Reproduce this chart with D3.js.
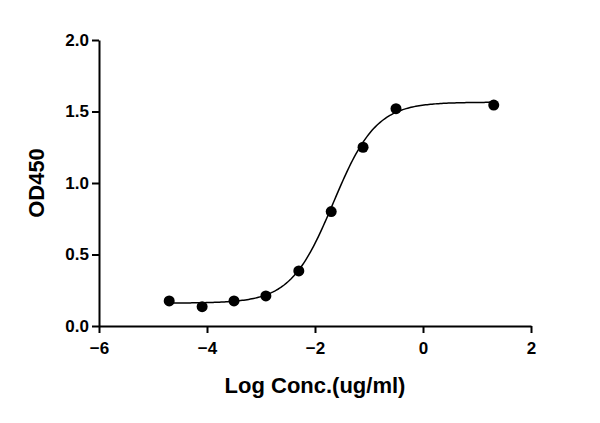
<!DOCTYPE html>
<html><head><meta charset="utf-8">
<script src="https://cdn.jsdelivr.net/npm/d3@7"></script>
<style>body{margin:0;background:#fff}</style></head>
<body><svg id="c" width="600" height="423"></svg>
<script>
const logConc = [-4.70, -4.09, -3.50, -2.91, -2.30, -1.70, -1.11, -0.50, 1.31];
const od450 = [0.175, 0.135, 0.175, 0.21, 0.385, 0.80, 1.25, 1.52, 1.545];
const xTicks = [-6, -4, -2, 0, 2];
const yTicks = [0.0, 0.5, 1.0, 1.5, 2.0];
// 4PL fit parameters
const fitBottom = 0.16, fitTop = 1.565, fitLogEC50 = -1.66, fitHill = 1.1;

const svg = d3.select("#c");
const x = d3.scaleLinear().domain([-6, 2]).range([99, 531]);
const y = d3.scaleLinear().domain([0, 2]).range([326, 40]);
const font = "Liberation Sans, Arial, sans-serif";

const xa = svg.append("g").attr("transform", "translate(0,326)")
  .call(d3.axisBottom(x).tickValues(xTicks).tickFormat(d3.format("d")).tickSize(7).tickSizeOuter(0));
const ya = svg.append("g").attr("transform", "translate(99,0)")
  .call(d3.axisLeft(y).tickValues(yTicks).tickFormat(d3.format(".1f")).tickSize(7).tickSizeOuter(0));
[xa, ya].forEach(a => {
  a.attr("font-size", null).attr("font-family", null);
  a.selectAll("path,line").attr("stroke", "#000").attr("stroke-width", 2);
  a.selectAll("text").style("font-family", font).style("font-size", "17px").style("font-weight", "bold").attr("fill", "#000");
});
xa.selectAll("text").attr("dy", "1.05em");
ya.selectAll("text").attr("x", -10);

const f = t => fitBottom + (fitTop - fitBottom) / (1 + Math.pow(10, (fitLogEC50 - t) * fitHill));
const pts = d3.range(0, 201).map(i => -4.7 + i * 6.01 / 200);
svg.append("path").attr("d", d3.line().x(d => x(d)).y(d => y(f(d)))(pts))
  .attr("fill", "none").attr("stroke", "#000").attr("stroke-width", 1.5);

svg.selectAll("circle.p").data(logConc).join("circle")
  .attr("cx", d => x(d)).attr("cy", (d, i) => y(od450[i])).attr("r", 5.5).attr("fill", "#000");

svg.append("text").attr("x", 315).attr("y", 393).attr("text-anchor", "middle")
  .style("font-family", font).style("font-size", "22px").style("font-weight", "bold").text("Log Conc.(ug/ml)");
svg.append("text").attr("transform", "translate(44,183) rotate(-90)").attr("text-anchor", "middle")
  .style("font-family", font).style("font-size", "22px").style("font-weight", "bold").text("OD450");
</script></body></html>
